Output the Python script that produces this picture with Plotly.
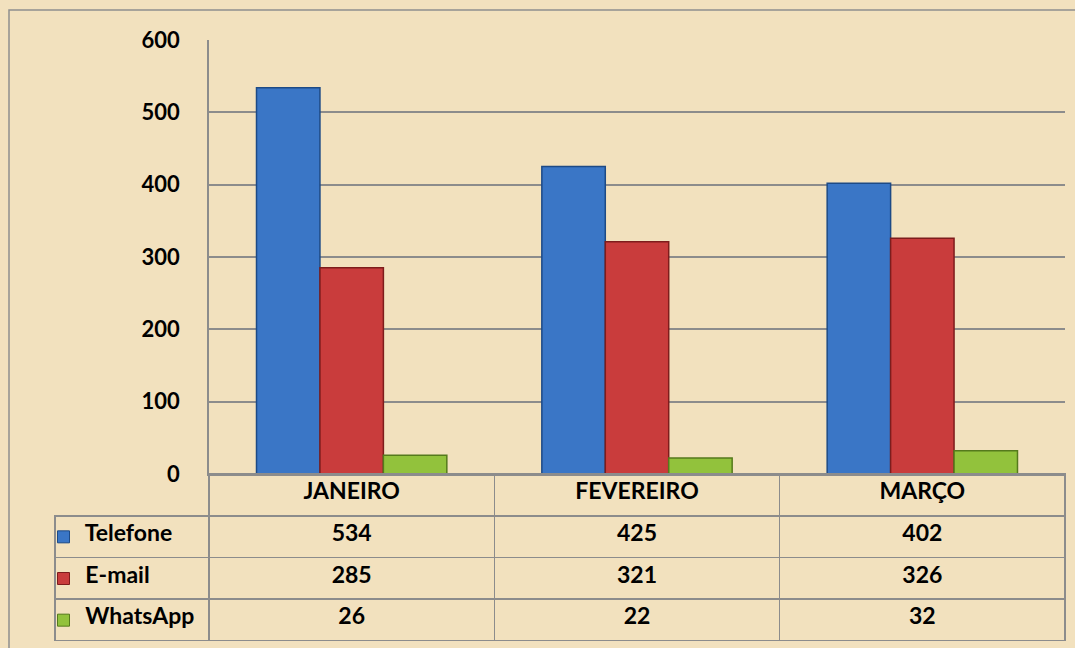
import plotly.graph_objects as go

categories = ["JANEIRO", "FEVEREIRO", "MARÇO"]
series_names = ["Telefone", "E-mail", "WhatsApp"]
telefone = [534, 425, 402]
email = [285, 321, 326]
whatsapp = [26, 22, 32]
y_ticks = [0, 100, 200, 300, 400, 500, 600]

series_values = [telefone, email, whatsapp]
fill_colors = ["#3a76c6", "#c93c3c", "#92c23c"]
edge_colors = ["#1d4a86", "#7e1c1c", "#557a1c"]

W, H = 1075, 648
FONT = "Lato"
GRID = "#8c8c8c"
BG = "#f2e1be"
FS = 23

def px_x(v):
    return v / W

def px_y(v):
    return (H - v) / H

fig = go.Figure()

for name, vals, fc, ec in zip(series_names, series_values, fill_colors, edge_colors):
    fig.add_trace(go.Bar(
        x=categories, y=vals, name=name,
        marker=dict(color=fc, line=dict(color=ec, width=1.5)),
        showlegend=False, hoverinfo="x+y+name",
    ))

# data table under the chart
label_cells = ["\u00a0" * 4 + n for n in series_names]
columns = [label_cells] + [[s[i] for s in series_values] for i in range(len(categories))]

table_font = dict(family=FONT, size=FS, color="black", weight="bold")

fig.add_trace(go.Table(
    domain=dict(x=[px_x(55), px_x(1065)], y=[px_y(641), px_y(474)]),
    columnwidth=[154, 285.3, 285.3, 285.3],
    header=dict(
        values=[""] + categories,
        height=42,
        fill=dict(color="rgba(0,0,0,0)"),
        line=dict(color=["rgba(0,0,0,0)", GRID, GRID, GRID], width=1.5),
        align="center",
        font=table_font,
    ),
    cells=dict(
        values=columns,
        height=41.5,
        fill=dict(color="rgba(0,0,0,0)"),
        line=dict(color=GRID, width=1.5),
        align=["left", "center", "center", "center"],
        font=table_font,
    ),
))

# legend keys inside the label column (square markers on a helper axis pair)
fig.add_trace(go.Scatter(
    x=[0.5] * len(series_names), y=series_names, mode="markers",
    marker=dict(symbol="square", size=12, color=fill_colors,
                line=dict(color=edge_colors, width=1)),
    xaxis="x2", yaxis="y2", showlegend=False, hoverinfo="skip",
))

# outer chart border
fig.add_shape(type="rect", xref="paper", yref="paper",
              x0=px_x(9), x1=1.05, y0=-0.05, y1=px_y(10),
              line=dict(color="#8f8f8f", width=1.5), fillcolor="rgba(0,0,0,0)", layer="below")

fig.update_layout(
    width=W, height=H,
    margin=dict(l=0, r=0, t=0, b=0, pad=0, autoexpand=False),
    paper_bgcolor=BG, plot_bgcolor="rgba(0,0,0,0)",
    barmode="group", bargap=0.333, bargroupgap=0,
    font=dict(family=FONT, color="black"),
    xaxis=dict(domain=[px_x(209), px_x(1065)], showticklabels=False, showgrid=False,
               showline=True, linecolor=GRID, linewidth=1.5, zeroline=False,
               automargin=False),
    yaxis=dict(domain=[px_y(474), px_y(40)], range=[0, 600], tickvals=y_ticks,
               showgrid=True, gridcolor=GRID, gridwidth=1.5,
               showline=True, linecolor=GRID, linewidth=1.5, zeroline=False,
               ticks="", ticklabelstandoff=23, automargin=False,
               tickfont=dict(family=FONT, size=22, color="black", weight="bold")),
    xaxis2=dict(domain=[px_x(55), px_x(72)], range=[0, 1], visible=False,
                fixedrange=True),
    yaxis2=dict(domain=[px_y(641), px_y(516)], type="category",
                categoryorder="array", categoryarray=series_names[::-1],
                range=[-0.5, len(series_names) - 0.5], visible=False, fixedrange=True,
                anchor="x2"),
)

fig.write_html("out.html", post_script="document.body.style.margin='0';",
               config={"displayModeBar": False})
